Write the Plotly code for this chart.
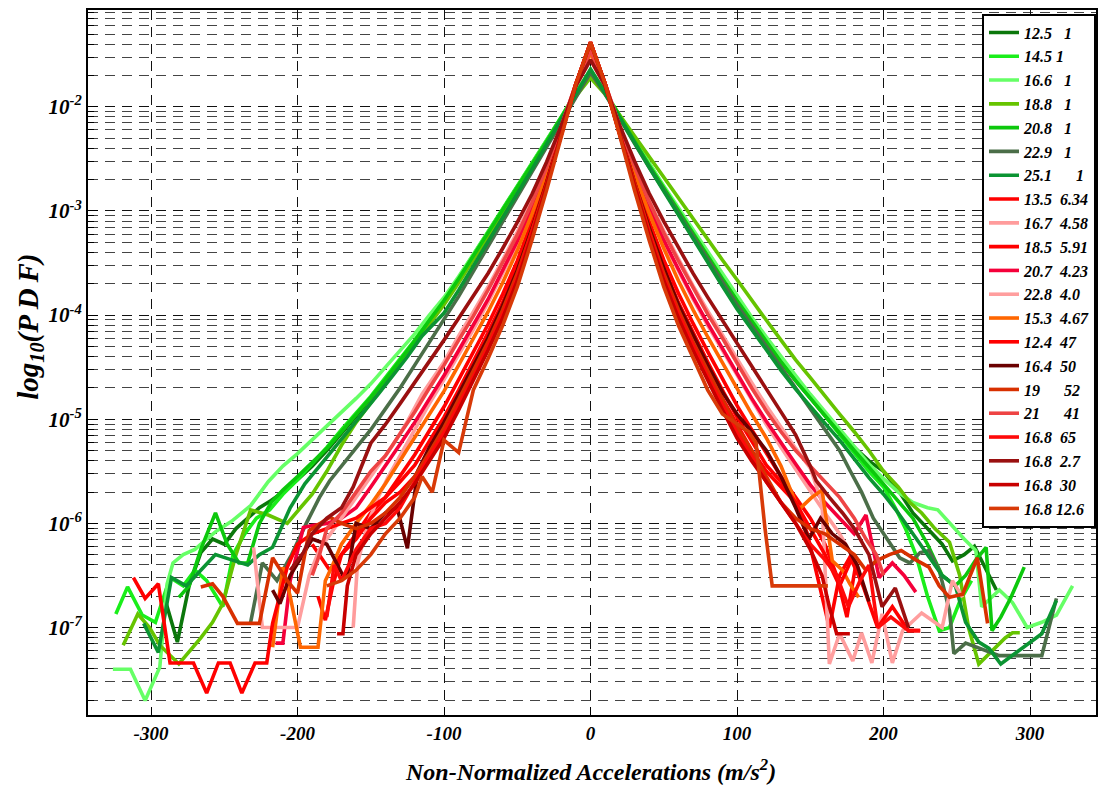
import plotly.graph_objects as go

# ---------------- data (log10 of PDF values) ----------------
CORE_X = [-100, -90, -80, -70, -60, -50, -40, -30, -20, -10, 0, 10, 20, 30, 40, 50, 60, 70, 80, 90, 100]

labels = ["12.5\u00a0\u00a0\u00a01", "14.5\u00a01", "16.6\u00a0\u00a0\u00a01", "18.8\u00a0\u00a0\u00a01",
          "20.8\u00a0\u00a0\u00a01", "22.9\u00a0\u00a0\u00a01", "25.1\u00a0\u00a0\u00a0\u00a0\u00a0\u00a01",
          "13.5\u00a0\u00a06.34", "16.7\u00a0\u00a04.58", "18.5\u00a0\u00a05.91", "20.7\u00a0\u00a04.23",
          "22.8\u00a0\u00a04.0", "15.3\u00a0\u00a04.67", "12.4\u00a0\u00a047", "16.4\u00a0\u00a050",
          "19\u00a0\u00a0\u00a0\u00a0\u00a0\u00a052", "21\u00a0\u00a0\u00a0\u00a0\u00a0\u00a041",
          "16.8\u00a0\u00a065", "16.8\u00a0\u00a02.7", "16.8\u00a0\u00a030", "16.8\u00a012.6"]

colors = ["#0b770b", "#1aee1a", "#66ff66", "#66c400", "#0cc80c", "#4b6e48", "#0b9433",
          "#ff0000", "#ff9c9c", "#ff0000", "#f5003a", "#ff9e9e", "#ff6600", "#ff0000",
          "#6a0000", "#d83000", "#ee4444", "#ff0a0a", "#9a1010", "#c80000", "#d83a08"]

x_01 = [-290, -282, -274, -266, -258, -250, -242, -234, -226, -218, -210, -200, -190, -180, -170, -160, -150, -140, -130, -120, -110] + CORE_X + [110, 120, 130, 140, 150, 160, 170, 180, 190, 200, 210, 220, 231, 240, 247, 255, 262, 270, 277]
lp_01 = [-6.75, -7.14, -6.6, -6.28, -6.15, -6.2, -6.05, -5.95, -5.85, -5.78, -5.7, -5.58, -5.45, -5.3, -5.14, -4.97, -4.8, -4.62, -4.44, -4.26, -4.06] + \
        [-3.86, -3.65, -3.43, -3.21, -3.0, -2.78, -2.56, -2.34, -2.12, -1.88, -1.66, -1.87, -2.1, -2.33, -2.56, -2.78, -3.0, -3.22, -3.44, -3.65, -3.86] + \
        [-4.06, -4.26, -4.45, -4.63, -4.8, -4.97, -5.13, -5.27, -5.4, -5.5, -5.68, -5.9, -6.07, -6.2, -6.36, -6.3, -6.22, -6.45, -6.64]

x_02 = [-324, -316, -306, -297, -287, -278, -270, -262, -251, -244, -236, -228, -219, -210, -200, -190, -180, -170, -160, -150, -140, -130, -120, -110] + CORE_X + [110, 120, 130, 140, 150, 160, 170, 180, 190, 200, 208, 215, 222, 230, 238, 245, 252, 260]
lp_02 = [-6.87, -6.61, -6.88, -6.95, -6.52, -6.6, -6.45, -6.55, -6.8, -6.3, -6.1, -5.95, -5.87, -5.72, -5.58, -5.43, -5.27, -5.1, -4.94, -4.78, -4.6, -4.42, -4.24, -4.04] + \
        [-3.85, -3.64, -3.42, -3.2, -2.99, -2.77, -2.55, -2.33, -2.1, -1.86, -1.65, -1.86, -2.09, -2.32, -2.55, -2.77, -2.99, -3.21, -3.42, -3.63, -3.84] + \
        [-4.04, -4.24, -4.43, -4.61, -4.79, -4.97, -5.14, -5.32, -5.5, -5.65, -5.85, -6.05, -6.3, -6.7, -7.03, -7.0, -6.75, -6.55]

x_03 = [-326, -314, -304, -294, -289, -285, -278, -270, -262, -255, -245, -232, -220, -210, -200, -190, -180, -170, -160, -150, -140, -130, -120, -110] + CORE_X + [110, 120, 130, 140, 150, 160, 170, 180, 190, 200, 210, 220, 230, 237, 245, 255, 263, 267, 279, 288, 298, 308, 318, 329]
lp_03 = [-7.4, -7.4, -7.7, -7.38, -6.58, -6.38, -6.3, -6.25, -6.15, -6.07, -5.98, -5.83, -5.6, -5.45, -5.33, -5.2, -5.07, -4.93, -4.8, -4.66, -4.5, -4.35, -4.18, -4.0] + \
        [-3.83, -3.63, -3.42, -3.2, -2.99, -2.77, -2.55, -2.33, -2.1, -1.87, -1.64, -1.86, -2.09, -2.32, -2.54, -2.76, -2.97, -3.19, -3.4, -3.61, -3.82] + \
        [-4.02, -4.21, -4.4, -4.58, -4.76, -4.93, -5.1, -5.27, -5.43, -5.57, -5.7, -5.8, -5.85, -5.87, -6.0, -6.15, -6.26, -6.8, -6.64, -6.76, -7.0, -6.95, -6.88, -6.6]

x_04 = [-319, -309, -301, -294, -281, -266, -258, -251, -242, -232, -220, -207, -198, -190, -180, -170, -160, -150, -140, -130, -120, -110] + CORE_X + [110, 120, 130, 140, 150, 160, 170, 180, 190, 200, 210, 218, 226, 235, 245, 252, 258, 265, 271, 277, 283, 288, 293]
lp_04 = [-7.17, -6.87, -7.0, -7.17, -7.35, -7.1, -6.95, -6.77, -6.3, -5.87, -5.92, -6.0, -5.85, -5.72, -5.5, -5.25, -5.03, -4.84, -4.65, -4.46, -4.27, -4.08] + \
        [-3.9, -3.69, -3.47, -3.25, -3.03, -2.81, -2.58, -2.36, -2.13, -1.9, -1.72, -1.88, -2.08, -2.28, -2.48, -2.68, -2.88, -3.07, -3.27, -3.47, -3.66] + \
        [-3.86, -4.05, -4.24, -4.43, -4.6, -4.78, -4.95, -5.12, -5.3, -5.5, -5.65, -5.8, -5.9, -6.05, -6.18, -6.5, -7.0, -7.35, -7.27, -7.19, -7.1, -7.05, -7.05]

x_05 = [-281, -274, -266, -256, -248, -240, -234, -226, -218, -210, -200, -190, -180, -170, -160, -150, -140, -130, -120, -110] + CORE_X + [110, 120, 130, 140, 150, 160, 170, 180, 190, 200, 210, 220, 230, 240, 249, 256, 263, 270, 274, 280, 287, 296]
lp_05 = [-6.71, -6.6, -6.25, -5.9, -6.2, -6.38, -6.38, -6.0, -5.8, -5.68, -5.55, -5.42, -5.28, -5.12, -4.96, -4.79, -4.62, -4.44, -4.25, -4.05] + \
        [-3.86, -3.65, -3.43, -3.22, -3.0, -2.78, -2.56, -2.33, -2.1, -1.87, -1.65, -1.86, -2.1, -2.33, -2.56, -2.78, -3.0, -3.22, -3.44, -3.65, -3.86] + \
        [-4.06, -4.26, -4.45, -4.63, -4.8, -4.97, -5.14, -5.3, -5.46, -5.62, -5.78, -5.95, -6.2, -6.5, -6.6, -6.5, -6.35, -6.23, -7.03, -6.9, -6.71, -6.42]

x_06 = [-232, -224, -214, -204, -194, -185, -178, -170, -160, -150, -140, -130, -120, -110] + CORE_X + [110, 120, 130, 140, 150, 160, 170, 177, 185, 193, 200, 211, 218, 225, 231, 238, 245, 248, 256, 265, 279, 293, 308, 318]
lp_06 = [-6.95, -6.38, -6.55, -6.3, -6.0, -5.75, -5.59, -5.45, -5.28, -5.1, -4.9, -4.7, -4.48, -4.26] + \
        [-4.05, -3.82, -3.58, -3.34, -3.1, -2.86, -2.62, -2.38, -2.14, -1.9, -1.67, -1.88, -2.12, -2.35, -2.58, -2.8, -3.02, -3.24, -3.46, -3.68, -3.9] + \
        [-4.1, -4.3, -4.5, -4.7, -4.9, -5.1, -5.3, -5.49, -5.7, -5.95, -6.1, -6.33, -6.38, -6.28, -6.26, -6.45, -6.84, -7.25, -7.15, -7.2, -7.27, -7.27, -7.27, -6.72]

x_07 = [-305, -295, -286, -276, -266, -256, -245, -234, -226, -217, -205, -195, -185, -175, -165, -155, -145, -135, -125, -115] + CORE_X + [110, 120, 130, 140, 150, 160, 170, 180, 190, 200, 210, 220, 230, 240, 249, 256, 265, 272, 280, 290, 300, 308, 318]
lp_07 = [-6.96, -7.24, -6.52, -6.6, -6.45, -6.3, -6.35, -6.4, -6.3, -6.23, -5.85, -5.62, -5.45, -5.28, -5.1, -4.93, -4.76, -4.58, -4.4, -4.2] + \
        [-3.98, -3.76, -3.53, -3.3, -3.07, -2.84, -2.6, -2.36, -2.12, -1.88, -1.64, -1.87, -2.11, -2.35, -2.58, -2.81, -3.04, -3.27, -3.5, -3.72, -3.94] + \
        [-4.14, -4.34, -4.53, -4.71, -4.88, -5.04, -5.2, -5.38, -5.56, -5.72, -5.9, -6.1, -6.3, -6.5, -6.6, -6.95, -7.14, -7.2, -7.35, -7.25, -7.15, -7.06, -6.74]

x_08 = [-186, -181, -176, -170, -160, -150, -140, -130, -120, -110] + CORE_X + [110, 120, 130, 140, 150, 160, 168, 175, 181]
lp_08 = [-6.7, -6.93, -6.6, -6.3, -6.1, -5.9, -5.75, -5.55, -5.34, -5.11] + \
        [-4.88, -4.62, -4.36, -4.09, -3.8, -3.48, -3.1, -2.69, -2.24, -1.78, -1.40, -1.78, -2.24, -2.69, -3.1, -3.47, -3.79, -4.08, -4.35, -4.61, -4.87] + \
        [-5.1, -5.33, -5.55, -5.75, -5.95, -6.2, -6.5, -6.9, -6.4]

x_09 = [-162, -159, -152, -145, -138, -130, -120, -110] + CORE_X + [110, 120, 130, 140, 150, 160, 170, 180]
lp_09 = [-7.0, -6.38, -6.0, -5.75, -5.55, -5.35, -5.1, -4.85] + \
        [-4.62, -4.38, -4.14, -3.88, -3.6, -3.32, -3.0, -2.62, -2.21, -1.79, -1.5, -1.78, -2.2, -2.6, -2.98, -3.3, -3.58, -3.85, -4.1, -4.34, -4.58] + \
        [-4.82, -5.05, -5.27, -5.48, -5.7, -5.9, -6.1, -6.35]

x_10 = [-190, -178, -170, -160, -150, -140, -130, -120, -110] + CORE_X + [110, 120, 130, 140, 148, 156, 163, 170, 178, 186]
lp_10 = [-6.2, -6.45, -6.3, -6.15, -5.95, -5.8, -5.7, -5.55, -5.32] + \
        [-5.05, -4.8, -4.55, -4.27, -3.96, -3.61, -3.2, -2.75, -2.27, -1.79, -1.38, -1.79, -2.27, -2.75, -3.2, -3.61, -3.96, -4.27, -4.55, -4.8, -5.05] + \
        [-5.3, -5.5, -5.65, -5.8, -6.1, -6.6, -7.0, -6.5, -6.3, -6.6]

x_11 = [-215, -210, -205, -196, -190, -180, -170, -160, -150, -140, -130, -120, -110] + CORE_X + [110, 120, 130, 140, 150, 160, 170, 180, 188, 197, 206, 214, 222]
lp_11 = [-7.15, -7.15, -6.55, -6.04, -6.02, -6.0, -5.95, -5.85, -5.65, -5.45, -5.24, -5.03, -4.81] + \
        [-4.58, -4.34, -4.1, -3.85, -3.57, -3.29, -2.97, -2.6, -2.2, -1.78, -1.45, -1.78, -2.2, -2.6, -2.96, -3.28, -3.56, -3.83, -4.08, -4.32, -4.56] + \
        [-4.8, -5.02, -5.23, -5.43, -5.63, -5.8, -5.95, -6.1, -5.92, -6.52, -6.38, -6.5, -6.66]

x_12 = [-230, -224, -212, -200, -192, -185, -175, -165, -155, -145, -135, -125, -115] + CORE_X + [110, 120, 130, 140, 150, 158, 163, 170, 179, 185, 192, 199, 206, 213, 226, 240, 247, 254]
lp_12 = [-6.23, -7.0, -7.0, -7.0, -6.5, -6.25, -6.05, -5.85, -5.65, -5.45, -5.25, -5.02, -4.76] + \
        [-4.45, -4.2, -3.97, -3.73, -3.47, -3.2, -2.9, -2.56, -2.19, -1.78, -1.47, -1.78, -2.19, -2.56, -2.9, -3.19, -3.46, -3.72, -3.96, -4.19, -4.43] + \
        [-4.65, -4.87, -5.08, -5.28, -5.47, -5.8, -7.35, -7.06, -7.32, -7.05, -7.34, -6.87, -7.34, -7.03, -6.86, -7.0, -6.55, -6.71]

x_13 = [-217, -210, -205, -198, -186, -181, -176, -170, -160, -150, -140, -130, -120, -110] + CORE_X + [110, 120, 130, 142, 151, 158, 165, 172, 177, 183]
lp_13 = [-7.19, -6.42, -6.7, -7.19, -7.19, -6.55, -6.4, -6.2, -6.0, -5.82, -5.62, -5.4, -5.18, -4.96] + \
        [-4.73, -4.48, -4.23, -3.97, -3.69, -3.38, -3.03, -2.65, -2.22, -1.79, -1.48, -1.79, -2.22, -2.64, -3.02, -3.36, -3.67, -3.95, -4.21, -4.46, -4.71] + \
        [-4.95, -5.18, -5.45, -5.87, -5.75, -5.68, -6.36, -6.45, -6.58, -6.71]

x_14 = [-312, -304, -295, -287, -271, -262, -254, -246, -238, -229, -221, -217, -207, -200, -190, -180, -170, -160, -150, -140, -130, -120, -110] + CORE_X + [110, 120, 130, 140, 150, 160, 170, 178, 186, 196, 206, 217, 225]
lp_14 = [-6.52, -6.72, -6.58, -7.34, -7.34, -7.63, -7.34, -7.34, -7.63, -7.34, -7.34, -6.96, -6.42, -6.2, -6.1, -6.05, -6.0, -5.95, -5.85, -5.75, -5.6, -5.44, -5.21] + \
        [-4.98, -4.72, -4.45, -4.17, -3.88, -3.54, -3.15, -2.72, -2.25, -1.78, -1.38, -1.78, -2.25, -2.72, -3.15, -3.54, -3.88, -4.17, -4.45, -4.72, -4.98] + \
        [-5.21, -5.44, -5.6, -5.8, -6.05, -6.3, -6.6, -6.35, -6.6, -7.0, -6.8, -7.03, -7.03]

x_15 = [-217, -212, -205, -196, -190, -180, -169, -166, -160, -150, -140, -132, -125, -118, -110] + CORE_X + [110, 120, 130, 140, 149, 157, 165, 174, 182, 190]
lp_15 = [-6.64, -6.77, -6.5, -6.29, -6.15, -6.2, -6.5, -6.5, -6.0, -6.05, -5.9, -5.85, -6.24, -5.5, -5.27] + \
        [-5.03, -4.76, -4.5, -4.22, -3.91, -3.57, -3.17, -2.73, -2.25, -1.79, -1.42, -1.79, -2.25, -2.73, -3.16, -3.55, -3.9, -4.2, -4.48, -4.74, -4.95] + \
        [-5.12, -5.3, -5.55, -5.85, -6.15, -5.95, -6.1, -6.2, -6.4, -6.75]

x_16 = [-266, -258, -251, -241, -226, -217, -207, -200, -192, -185, -178, -170, -160, -150, -140, -130, -120, -110] + CORE_X + [110, 120, 130, 140, 150, 160, 170, 180, 188, 195, 204, 212, 222, 231, 238, 245, 254, 264, 271]
lp_16 = [-6.61, -6.58, -6.7, -6.96, -6.96, -6.33, -6.55, -6.67, -6.07, -6.0, -5.94, -6.0, -6.05, -6.0, -5.9, -5.75, -5.55, -5.32] + \
        [-5.08, -4.81, -4.54, -4.26, -3.95, -3.6, -3.19, -2.74, -2.26, -1.78, -1.40, -1.78, -2.26, -2.74, -3.19, -3.6, -3.95, -4.26, -4.54, -4.81, -5.08] + \
        [-5.3, -5.55, -5.8, -5.95, -6.05, -6.1, -6.2, -6.3, -6.45, -6.36, -6.3, -6.26, -6.35, -6.42, -6.6, -6.71, -6.68, -6.33, -6.96]

x_17 = [-190, -185, -180, -170, -160, -150, -140, -130, -120, -110] + CORE_X + [110, 120, 130, 140, 150, 160, 170, 180, 188, 195, 200]
lp_17 = [-6.5, -6.3, -6.05, -5.9, -5.7, -5.5, -5.35, -5.14, -4.93, -4.7] + \
        [-4.48, -4.24, -4.01, -3.76, -3.5, -3.23, -2.92, -2.58, -2.19, -1.78, -1.46, -1.78, -2.19, -2.57, -2.91, -3.21, -3.48, -3.74, -3.99, -4.22, -4.46] + \
        [-4.7, -4.92, -5.12, -5.3, -5.45, -5.6, -5.75, -5.95, -6.15, -6.3, -6.5]

x_18 = [-180, -175, -170, -160, -150, -140, -130, -120, -110] + CORE_X + [110, 120, 130, 140, 150, 160, 168, 176, 184, 190, 196, 205, 217, 225]
lp_18 = [-6.9, -6.4, -6.55, -6.25, -6.05, -6.0, -5.85, -5.6, -5.35] + \
        [-5.13, -4.86, -4.59, -4.3, -3.99, -3.64, -3.21, -2.76, -2.26, -1.78, -1.38, -1.78, -2.26, -2.76, -3.21, -3.64, -3.99, -4.3, -4.59, -4.86, -5.13] + \
        [-5.35, -5.6, -5.8, -6.0, -6.2, -6.35, -6.5, -6.8, -6.55, -6.4, -7.0, -6.9, -7.03, -7.03]

x_19 = [-205, -196, -190, -180, -170, -162, -150, -140, -130, -120, -110] + CORE_X + [110, 120, 130, 140, 150, 154, 163, 172, 180, 190, 199, 208, 217]
lp_19 = [-6.45, -6.28, -6.1, -5.95, -5.85, -5.65, -5.23, -5.05, -4.85, -4.65, -4.45] + \
        [-4.24, -4.03, -3.82, -3.6, -3.36, -3.11, -2.84, -2.53, -2.18, -1.8, -1.55, -1.8, -2.18, -2.52, -2.83, -3.1, -3.35, -3.6, -3.83, -4.05, -4.28] + \
        [-4.5, -4.72, -4.93, -5.15, -5.45, -5.59, -5.75, -5.9, -6.05, -6.3, -6.8, -6.62, -7.0]

x_20 = [-173, -169, -166, -160, -150, -140, -130, -120, -110] + CORE_X + [110, 120, 130, 140, 150, 158, 163, 168, 177]
lp_20 = [-7.06, -7.06, -6.6, -6.3, -6.1, -5.95, -5.8, -5.62, -5.4] + \
        [-5.18, -4.91, -4.63, -4.34, -4.03, -3.67, -3.24, -2.77, -2.27, -1.78, -1.38, -1.78, -2.27, -2.77, -3.24, -3.67, -4.03, -4.34, -4.63, -4.91, -5.18] + \
        [-5.4, -5.6, -5.8, -6.0, -6.25, -6.5, -6.8, -7.06, -7.06]

x_21 = [-180, -170, -160, -150, -140, -130, -120, -115, -108] + CORE_X + [108, 113, 119, 124, 135, 147, 155, 162]
lp_21 = [-6.6, -6.55, -6.45, -6.3, -6.1, -5.95, -5.75, -5.55, -5.7] + \
        [-5.2, -5.32, -4.72, -4.42, -4.1, -3.73, -3.28, -2.8, -2.28, -1.78, -1.38, -1.78, -2.28, -2.8, -3.28, -3.73, -4.1, -4.42, -4.72, -4.95, -5.05] + \
        [-5.12, -5.23, -6.04, -6.6, -6.6, -6.6, -6.6, -6.6]

xs = [x_01, x_02, x_03, x_04, x_05, x_06, x_07, x_08, x_09, x_10, x_11,
      x_12, x_13, x_14, x_15, x_16, x_17, x_18, x_19, x_20, x_21]
lps = [lp_01, lp_02, lp_03, lp_04, lp_05, lp_06, lp_07, lp_08, lp_09, lp_10, lp_11,
       lp_12, lp_13, lp_14, lp_15, lp_16, lp_17, lp_18, lp_19, lp_20, lp_21]

y_major = [1e-7, 1e-6, 1e-5, 1e-4, 1e-3, 1e-2]
y_major_text = ["10<sup>-7</sup>", "10<sup>-6</sup>", "10<sup>-5</sup>", "10<sup>-4</sup>",
                "10<sup>-3</sup>", "10<sup>-2</sup>"]
y_minor = [m * 10.0 ** e for e in range(-8, -1) for m in range(2, 10)]
x_ticks = [-300, -200, -100, 0, 100, 200, 300]

# ---------------- figure ----------------
FONT = "Liberation Serif"
fig = go.Figure()
for i, (xv, lv) in enumerate(zip(xs, lps)):
    assert len(xv) == len(lv), (i, len(xv), len(lv))
    fig.add_trace(go.Scatter(
        x=xv, y=[10 ** v for v in lv], mode="lines", name=labels[i],
        line=dict(color=colors[i], width=3.6)))

fig.update_layout(
    width=1100, height=785,
    margin=dict(l=88, r=2, t=10, b=70),
    paper_bgcolor="white", plot_bgcolor="white",
    font=dict(family=FONT, color="black", weight="bold", style="italic"),
    showlegend=True,
    legend=dict(x=1, xanchor="right", y=0.995, yanchor="top",
                bgcolor="white", bordercolor="black", borderwidth=2,
                font=dict(family=FONT, size=16, color="black", weight="bold", style="italic"),
                itemwidth=30, tracegroupgap=0),
    xaxis=dict(range=[-343, 345], tickvals=x_ticks, ticktext=[str(v) for v in x_ticks],
               showgrid=True, gridcolor="#111", griddash="10px,7px", gridwidth=1.2,
               zeroline=False, showline=True, linecolor="black", linewidth=2, mirror=True,
               ticks="inside", ticklen=8, tickcolor="black",
               tickfont=dict(family=FONT, size=19, color="black", weight="bold", style="italic")),
    yaxis=dict(type="log", range=[-7.84, -1.07], tickvals=y_major, ticktext=y_major_text,
               showgrid=True, gridcolor="#111", griddash="10px,7px", gridwidth=1.2,
               zeroline=False, showline=True, linecolor="black", linewidth=2, mirror=True,
               ticks="inside", ticklen=10, tickcolor="black",
               tickfont=dict(family=FONT, size=21, color="black", weight="bold", style="italic"),
               minor=dict(tickvals=y_minor, showgrid=True, gridcolor="#444",
                          griddash="10px,7px", gridwidth=1.2, ticks="inside", ticklen=6,
                          tickcolor="black")),
    annotations=[
        dict(text="Non-Normalized Accelerations (m/s<sup>2</sup>)", xref="paper", yref="paper",
             x=0.499, y=-0.078, xanchor="center", yanchor="middle", showarrow=False,
             font=dict(family=FONT, size=24, color="black", weight="bold", style="italic")),
        dict(text="log<sub>10</sub>(P\u2009D\u2009F)", xref="paper", yref="paper",
             x=-0.057, y=0.55, xanchor="center", yanchor="middle", textangle=-90,
             showarrow=False,
             font=dict(family=FONT, size=29, color="black", weight="bold", style="italic")),
    ],
)

fig.write_html("out.html", config={"displayModeBar": False},
               post_script="document.body.style.margin='0px';")
